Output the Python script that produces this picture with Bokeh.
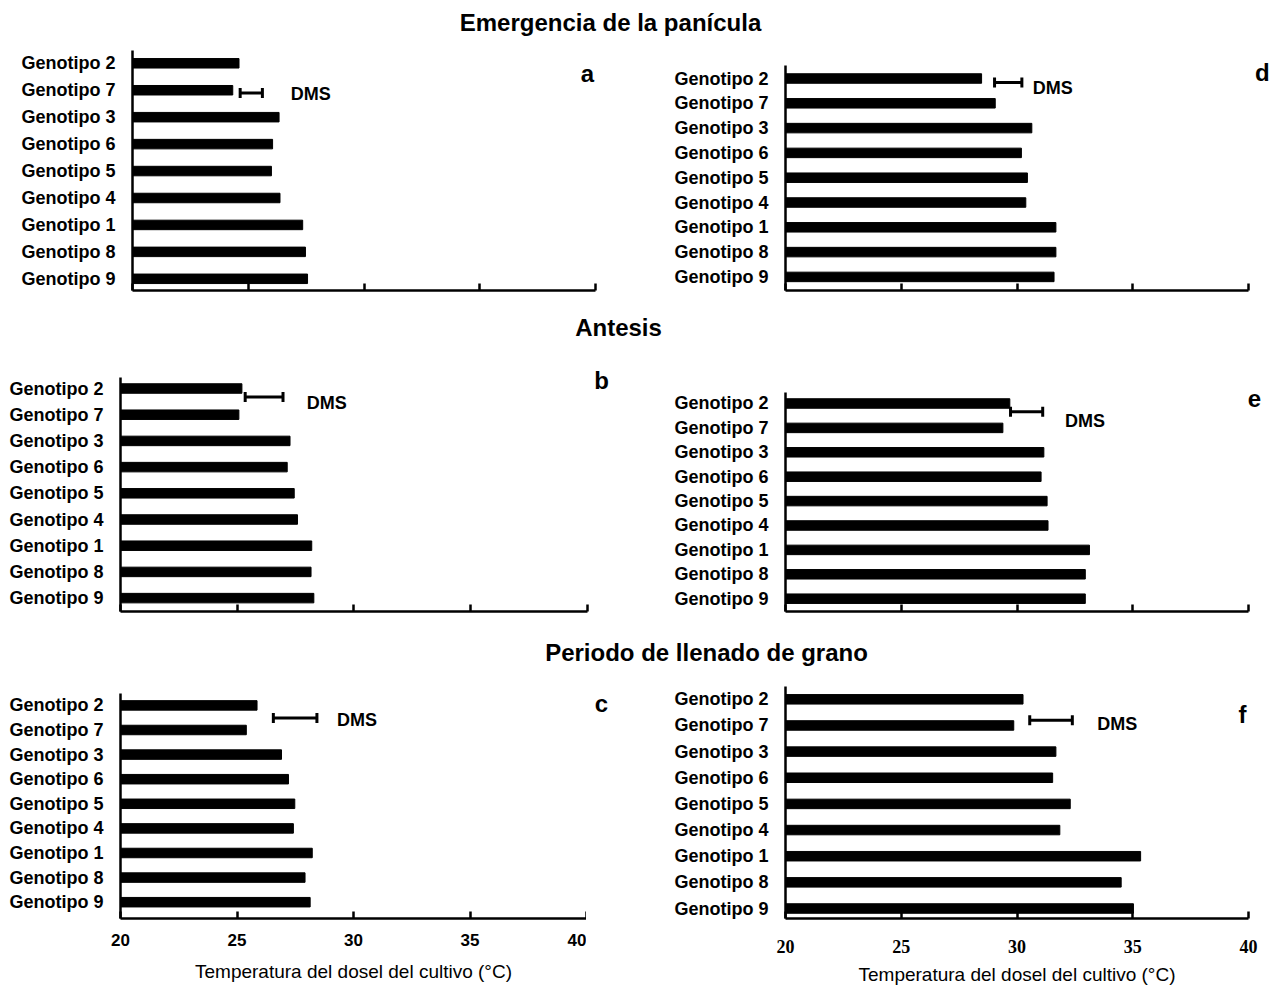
from bokeh.plotting import figure
from bokeh.layouts import column, row
from bokeh.models import FixedTicker, Range1d, Label, Whisker, TeeHead, ColumnDataSource
from bokeh.embed import file_html
from bokeh.resources import INLINE

# ---------------- data ----------------
genotipos = ["Genotipo 2", "Genotipo 7", "Genotipo 3", "Genotipo 6", "Genotipo 5",
             "Genotipo 4", "Genotipo 1", "Genotipo 8", "Genotipo 9"]
x_ticks = [20, 25, 30, 35, 40]
x_tick_labels = ["20", "25", "30", "35", "40"]

temp_a = [24.60, 24.33, 26.33, 26.05, 26.00, 26.37, 27.35, 27.47, 27.56]
temp_d = [28.47, 29.06, 30.64, 30.19, 30.45, 30.38, 31.68, 31.68, 31.60]
temp_b = [25.20, 25.07, 27.26, 27.14, 27.44, 27.58, 28.19, 28.16, 28.28]
temp_e = [29.69, 29.39, 31.16, 31.04, 31.30, 31.34, 33.13, 32.95, 32.95]
temp_c = [25.86, 25.40, 26.91, 27.21, 27.48, 27.42, 28.23, 27.92, 28.14]
temp_f = [30.26, 29.86, 31.68, 31.54, 32.30, 31.85, 35.34, 34.50, 35.03]

dms_a = [24.65, 25.61]
dms_d = [29.03, 30.21]
dms_b = [25.34, 26.96]
dms_e = [29.72, 31.11]
dms_c = [26.56, 28.43]
dms_f = [30.55, 32.39]

titulos = ["Emergencia de la panícula", "Antesis", "Periodo de llenado de grano"]
axis_title = "Temperatura del dosel del cultivo (°C)"
dms_label = "DMS"

# ---------------- styling ----------------
SANS = "Liberation Sans"
SERIF = "Liberation Serif"

ypos = list(range(len(genotipos), 0, -1))   # Genotipo 2 at top


def make_panel(vals, dms, letter, W, H, bl, br, bt, bb, xr, yr, ybounds, dms_y, dms_txt,
               letter_xy=None, show_x=False, tick_font=SANS, tick_size="17px",
               tick_standoff=14, title_standoff=12, bar_px=9.5):
    p = figure(width=W, height=H, x_range=Range1d(*xr), y_range=Range1d(*yr),
               output_backend="svg", toolbar_location=None,
               min_border_left=bl, min_border_right=br, min_border_top=bt, min_border_bottom=bb)
    p.outline_line_color = None
    p.grid.visible = False
    p.background_fill_color = "white"
    p.border_fill_color = "white"

    frame_h = H - bt - bb
    unit_px = frame_h / (yr[1] - yr[0])
    src = ColumnDataSource(dict(y=ypos, right=vals, name=genotipos))
    p.hbar(y="y", left=20, right="right", height=bar_px / unit_px, source=src,
           fill_color="black", line_color="black")

    # DMS whisker
    wsrc = ColumnDataSource(dict(base=[dms_y], lower=[dms[0]], upper=[dms[1]]))
    w = Whisker(source=wsrc, base="base", lower="lower", upper="upper", dimension="width",
                line_color="black", line_width=3,
                lower_head=TeeHead(size=10, line_width=3, line_color="black"),
                upper_head=TeeHead(size=10, line_width=3, line_color="black"))
    p.add_layout(w)
    p.add_layout(Label(x=dms_txt[0], y=dms_txt[1], text=dms_label, text_align="left",
                       text_baseline="middle", text_font=SANS, text_font_size="18px",
                       text_font_style="bold", text_color="black"))
    if letter_xy is not None:
        p.add_layout(Label(x=letter_xy[0], y=letter_xy[1], text=letter, text_align="center",
                           text_baseline="middle", text_font=SANS, text_font_size="24px",
                           text_font_style="bold", text_color="black"))

    # y axis
    ya = p.yaxis[0]
    ya.ticker = FixedTicker(ticks=ypos)
    ya.major_label_overrides = {y: g for y, g in zip(ypos, genotipos)}
    ya.major_label_text_font = SANS
    ya.major_label_text_font_size = "18px"
    ya.major_label_text_font_style = "bold"
    ya.major_label_text_color = "black"
    ya.major_tick_line_color = None
    ya.minor_tick_line_color = None
    ya.major_label_standoff = 11
    ya.axis_line_width = 2.5
    ya.axis_line_color = "black"
    ya.bounds = ybounds

    # x axis
    xa = p.xaxis[0]
    xa.ticker = FixedTicker(ticks=x_ticks)
    xa.bounds = (20, 40)
    xa.axis_line_width = 2.5
    xa.axis_line_color = "black"
    xa.major_tick_in = 7
    xa.major_tick_out = 0
    xa.major_tick_line_width = 2.5
    xa.major_tick_line_color = "black"
    xa.minor_tick_line_color = None
    if show_x:
        xa.major_label_overrides = {t: s for t, s in zip(x_ticks, x_tick_labels)}
        xa.major_label_text_font = tick_font
        xa.major_label_text_font_size = tick_size
        xa.major_label_text_font_style = "bold"
        xa.major_label_text_color = "black"
        xa.major_label_standoff = tick_standoff
        xa.axis_label = axis_title
        xa.axis_label_text_font = SANS
        xa.axis_label_text_font_size = "19px"
        xa.axis_label_text_font_style = "normal"
        xa.axis_label_text_color = "black"
        xa.axis_label_standoff = title_standoff
    else:
        xa.major_label_overrides = {t: "" for t in x_ticks}
        xa.major_label_text_font_size = "0px"
        xa.major_label_standoff = 0
    return p


def title_fig(text, h, cy, cx, W=1270):
    p = figure(width=W, height=h, x_range=Range1d(0, W), y_range=Range1d(0, h),
               output_backend="svg", toolbar_location=None, min_border=0,
               x_axis_location=None, y_axis_location=None)
    p.outline_line_color = None
    p.grid.visible = False
    p.add_layout(Label(x=cx, y=h - cy, text=text, text_align="center", text_baseline="middle",
                       text_font=SANS, text_font_size="24px", text_font_style="bold",
                       text_color="black"))
    return p


def letter_fig(letter, W, H, bt, bb, cx, cy_from_top):
    fh = H - bt - bb
    p = figure(width=W, height=H, x_range=Range1d(0, W), y_range=Range1d(0, fh),
               output_backend="svg", toolbar_location=None,
               min_border_left=0, min_border_right=0, min_border_top=bt, min_border_bottom=bb,
               x_axis_location=None, y_axis_location=None)
    p.outline_line_color = None
    p.grid.visible = False
    p.add_layout(Label(x=cx, y=fh - cy_from_top, text=letter, text_align="center",
                       text_baseline="middle", text_font=SANS, text_font_size="24px",
                       text_font_style="bold", text_color="black"))
    return p


# row 1 (40..312): frame 50..290
pa = make_panel(temp_a, dms_a, "a", 640, 272, 132, 0, 10, 22,
                (20, 41.94), (0.566, 9.475), (0.566, 9.475), 7.9,
                (26.83, 7.85), (39.65, 8.62))
pd = make_panel(temp_d, dms_d, "d", 630, 272, 145, 0, 10, 22,
                (20, 40.95), (0.452, 10.129), (0.452, 9.524), 8.84,
                (30.68, 8.6), (40.6, 9.24))
# row 2 (345..627): frame 360..611
pb = make_panel(temp_b, dms_b, "b", 640, 282, 120, 0, 15, 16,
                (20, 42.27), (0.489, 10.069), (0.489, 9.42), 8.68,
                (27.98, 8.43), (40.6, 9.3))
pe = make_panel(temp_e, dms_e, "e", 630, 282, 145, 0, 15, 16,
                (20, 40.95), (0.475, 10.762), (0.475, 9.471), 8.66,
                (32.07, 8.3), (40.26, 9.2))
# row 3 (668..989): frame 686..918
pc = make_panel(temp_c, dms_c, "c", 586, 321, 120, 0, 18, 71,
                (20, 40), (0.337, 9.768), (0.337, 9.47), 8.49,
                (29.29, 8.42), None, show_x=True,
                tick_font=SANS, tick_size="17px", tick_standoff=15, title_standoff=12)
lc = letter_fig("c", 54, 321, 18, 71, 15, 17)
pf = make_panel(temp_f, dms_f, "f", 630, 321, 145, 22, 18, 71,
                (20, 40), (0.618, 9.49), (0.618, 9.49), 8.2,
                (33.47, 8.07), (39.74, 8.42), show_x=True,
                tick_font=SERIF, tick_size="18px", tick_standoff=21, title_standoff=8)

t1 = title_fig(titulos[0], 40, 22, 610)
t2 = title_fig(titulos[1], 33, 15, 618)
t3 = title_fig(titulos[2], 41, 25, 706)

layout = column(t1, row(pa, pd), t2, row(pb, pe), t3, row(pc, lc, pf))

open("out.html", "w").write(file_html(layout, INLINE))
